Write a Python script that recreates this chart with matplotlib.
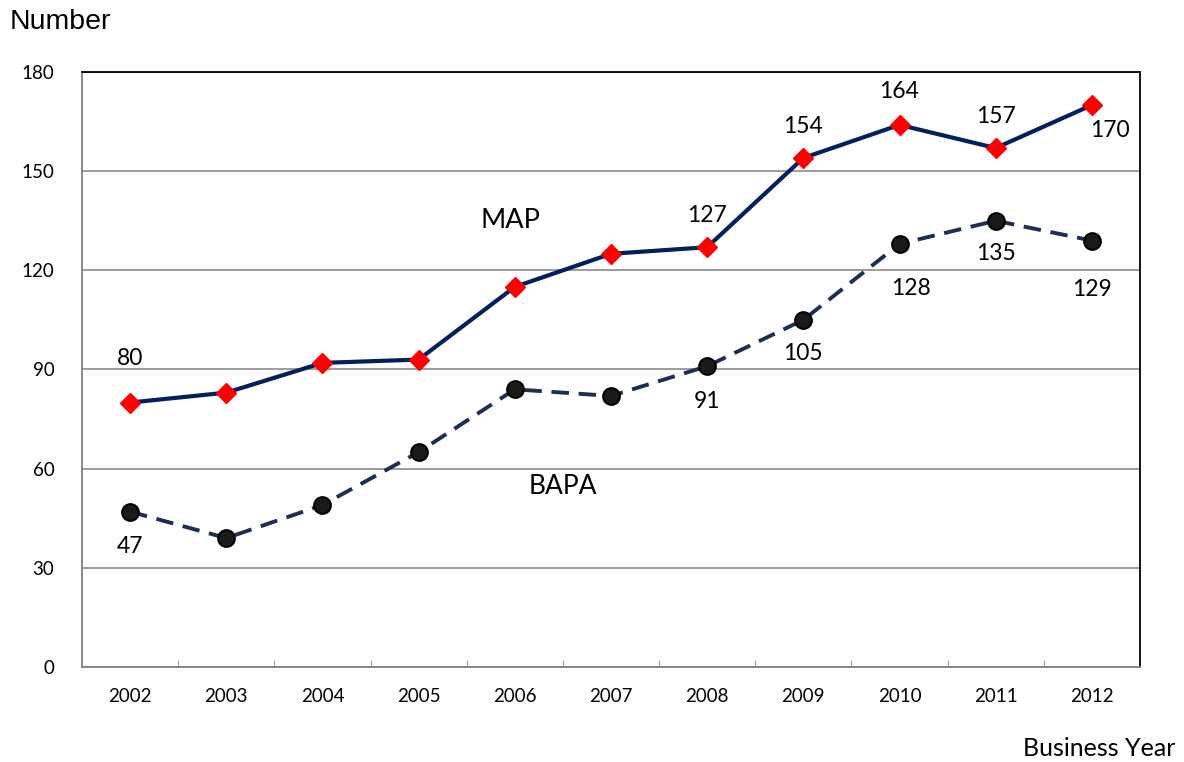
import matplotlib.pyplot as plt

# data
years = ['2002', '2003', '2004', '2005', '2006', '2007', '2008', '2009', '2010', '2011', '2012']
map_counts = [80, 83, 92, 93, 115, 125, 127, 154, 164, 157, 170]
bapa_counts = [47, 39, 49, 65, 84, 82, 91, 105, 128, 135, 129]

# which points carry a value label, and where (pixel offsets from the point)
map_labels = {0: (0, 44), 6: (0, 32), 7: (0, 31), 8: (0, 33), 9: (0, 32), 10: (18, -25)}
bapa_labels = {0: (0, -35), 6: (0, -35), 7: (0, -34), 8: (11, -45), 9: (0, -33), 10: (0, -49)}

plt.rcParams['font.family'] = ['Lato', 'DejaVu Sans']

fig = plt.figure(figsize=(11.84, 7.62), dpi=100)
ax = fig.add_axes([0.0693, 0.1247, 0.8935, 0.7808])

x = list(range(len(years)))

ax.plot(x, map_counts, color='#002060', lw=3, marker='D', ms=10,
        mfc='#ff0000', mec='#ff0000', zorder=4)
ax.plot(x, bapa_counts, color='#1c2f52', lw=2.8, ls=(0, (4.5, 2.5)), marker='o', ms=12,
        mfc='#1a1a1a', mec='#000000', mew=1.5, zorder=4)

for i, (dx, dy) in map_labels.items():
    ax.annotate(str(map_counts[i]), (x[i], map_counts[i]), xytext=(dx, dy),
                textcoords='offset pixels', ha='center', va='center', fontsize=16.5)
for i, (dx, dy) in bapa_labels.items():
    ax.annotate(str(bapa_counts[i]), (x[i], bapa_counts[i]), xytext=(dx, dy),
                textcoords='offset pixels', ha='center', va='center', fontsize=16.5)

ax.text(3.96, 135, 'MAP', ha='center', va='center', fontsize=19.5)
ax.text(4.5, 54.5, 'BAPA', ha='center', va='center', fontsize=19)

ax.set_xlim(-0.5, len(years) - 0.5)
ax.set_ylim(0, 180)
ax.set_yticks(range(0, 181, 30))
ax.yaxis.grid(True, color='#8c8c8c', lw=1.2)
ax.set_axisbelow(True)
ax.tick_params(axis='y', length=0, pad=20, labelsize=13.5)

# categories labelled at centres, tick marks on the boundaries
ax.set_xticks(x)
ax.set_xticklabels(years)
ax.tick_params(axis='x', which='major', length=0, pad=15, labelsize=13.5)
ax.set_xticks([i + 0.5 for i in x[:-1]], minor=True)
ax.tick_params(axis='x', which='minor', direction='in', length=5, color='#8c8c8c')

ax.spines['left'].set_color('#808080')
ax.spines['bottom'].set_color('#808080')
ax.spines['top'].set_color('#000000')
ax.spines['right'].set_color('#000000')
for s in ax.spines.values():
    s.set_linewidth(1.3)

fig.text(10 / 1184, 1 - 22 / 762, 'Number', ha='left', va='center', fontsize=20.5,
         family=['Liberation Sans', 'DejaVu Sans'])
fig.text(1175 / 1184, 1 - 748 / 762, 'Business Year', ha='right', va='center', fontsize=18)

fig.savefig('out.png', dpi=100)
